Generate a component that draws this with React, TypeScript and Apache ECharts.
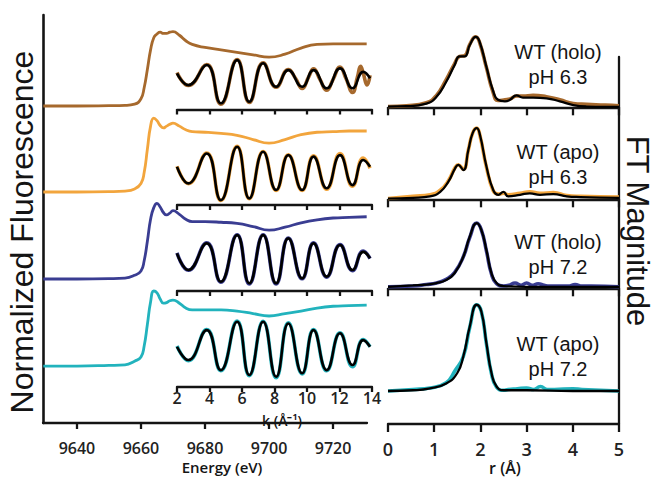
import React, { useEffect, useRef } from "react";
import * as echarts from "echarts";

// ---------------- DATA ----------------
// XANES (normalized, edge jump = 1)
const energyTicks = [9640, 9660, 9680, 9700, 9720];
const xanesEnergy = [9629.5, 9640, 9650, 9655, 9658, 9660, 9661, 9662, 9663, 9664, 9665, 9666, 9667, 9668, 9669, 9670, 9672, 9674, 9676, 9680, 9685, 9690, 9695, 9700, 9705, 9710, 9715, 9720, 9725, 9730.5];
const xanesHolo63 = [0, 0, 0.005, 0.01, 0.03, 0.12, 0.3, 0.6, 0.92, 1.12, 1.18, 1.21, 1.19, 1.19, 1.21, 1.22, 1.16, 1.07, 1.01, 0.96, 0.92, 0.88, 0.84, 0.8, 0.85, 0.95, 1.01, 1.02, 1.02, 1.02];
const xanesApo63 = [0, 0, 0.005, 0.015, 0.05, 0.14, 0.32, 0.7, 1.08, 1.21, 1.17, 1.09, 1.05, 1.08, 1.11, 1.13, 1.08, 1.02, 0.99, 0.98, 0.96, 0.93, 0.86, 0.8, 0.86, 0.94, 0.98, 0.99, 1.0, 1.0];
const xanesHolo72 = [0, 0, 0.005, 0.015, 0.06, 0.13, 0.3, 0.62, 0.98, 1.17, 1.24, 1.18, 1.09, 1.05, 1.08, 1.12, 1.06, 0.98, 0.94, 0.94, 0.93, 0.91, 0.86, 0.8, 0.85, 0.92, 0.97, 1.0, 1.01, 1.02];
const xanesApo72 = [0, 0, 0.01, 0.02, 0.08, 0.15, 0.33, 0.68, 1.05, 1.23, 1.2, 1.1, 1.03, 1.04, 1.07, 1.08, 1.03, 0.95, 0.92, 0.92, 0.92, 0.9, 0.86, 0.82, 0.86, 0.9, 0.95, 0.98, 0.99, 1.0];

// EXAFS k^3 chi(k)
const exafsK = [2.0, 2.7, 3.83, 4.7, 5.7, 6.45, 7.3, 8.1, 8.85, 9.7, 10.4, 11.21, 12.03, 12.8, 13.46, 13.88];
const exafsFitHolo63 = [0.29, -0.26, 0.68, -1.11, 0.91, -1.04, 0.76, -0.34, 0.44, -0.34, 0.44, -0.41, 0.52, -0.41, 0.36, 0.06];
const exafsFitApo63 = [0.39, -0.39, 1.01, -1.17, 1.32, -1.09, 1.09, -0.7, 0.93, -0.7, 0.86, -0.62, 0.93, -0.47, 0.7, 0.39];
const exafsFitHolo72 = [0.36, -0.42, 0.83, -0.97, 1.21, -1.04, 1.21, -1.04, 1.06, -0.81, 0.83, -0.73, 0.75, -0.42, 0.43, 0.13];
const exafsFitApo72 = [0.48, -0.14, 1.26, -0.61, 1.65, -0.84, 1.65, -0.92, 1.57, -0.76, 1.26, -0.61, 1.11, -0.37, 0.79, 0.48];
const exafsDataKHolo63 = [2.0, 2.7, 3.83, 4.7, 5.7, 6.45, 7.3, 8.1, 8.85, 9.3, 9.7, 10.1, 10.4, 10.8, 11.21, 11.6, 12.03, 12.4, 12.8, 13.1, 13.3, 13.46, 13.7, 13.88];
const exafsDataHolo63 = [0.33, -0.28, 0.7, -1.15, 0.93, -1.07, 0.78, -0.36, 0.47, 0.05, -0.42, 0.12, 0.5, 0.0, -0.5, 0.0, 0.58, 0.05, -0.6, 0.1, 0.62, 0.3, -0.25, 0.2];
const exafsDataApo63 = [0.41, -0.4, 1.03, -1.19, 1.34, -1.11, 1.1, -0.72, 0.95, -0.72, 0.9, -0.66, 1.0, -0.52, 0.8, 0.32];
const exafsDataHolo72 = [0.38, -0.43, 0.85, -0.99, 1.23, -1.07, 1.23, -1.07, 1.08, -0.83, 0.85, -0.75, 0.77, -0.45, 0.47, 0.11];
const exafsDataApo72 = [0.52, -0.17, 1.28, -0.64, 1.68, -0.87, 1.67, -0.97, 1.6, -0.79, 1.28, -0.64, 1.13, -0.45, 0.82, 0.48];

// Fourier transform magnitudes
const ftR1 = [0, 0.4, 0.83, 1.05, 1.26, 1.44, 1.55, 1.66, 1.77, 1.9, 1.98, 2.13, 2.27, 2.38, 2.53, 2.64, 2.78, 2.92, 3.14, 3.43, 3.72, 4.01, 4.3, 4.7, 5];
const ftFitHolo63 = [0.01, 0.015, 0.05, 0.14, 0.34, 0.56, 0.68, 0.68, 0.83, 0.94, 0.88, 0.54, 0.23, 0.1, 0.08, 0.1, 0.16, 0.13, 0.13, 0.12, 0.08, 0.03, 0.01, 0.005, 0.005];
const ftDataHolo63 = [0.01, 0.02, 0.06, 0.16, 0.37, 0.58, 0.68, 0.69, 0.84, 0.94, 0.87, 0.53, 0.21, 0.09, 0.1, 0.11, 0.15, 0.15, 0.16, 0.14, 0.1, 0.05, 0.04, 0.03, 0.02];
const ftR2 = [0, 0.54, 0.91, 1.13, 1.31, 1.45, 1.52, 1.63, 1.74, 1.83, 1.92, 1.99, 2.13, 2.28, 2.39, 2.5, 2.6, 2.86, 3.07, 3.29, 3.58, 3.87, 4.16, 5];
const ftFitApo63 = [0.01, 0.02, 0.04, 0.1, 0.24, 0.41, 0.46, 0.39, 0.66, 0.88, 0.95, 0.86, 0.44, 0.12, 0.06, 0.1, 0.04, 0.06, 0.08, 0.06, 0.07, 0.04, 0.03, 0.02];
const ftDataApo63 = [0.01, 0.04, 0.06, 0.12, 0.25, 0.42, 0.46, 0.4, 0.66, 0.88, 0.95, 0.85, 0.43, 0.11, 0.07, 0.08, 0.06, 0.08, 0.1, 0.08, 0.09, 0.05, 0.04, 0.03];
const ftR3 = [0, 0.54, 0.83, 1.05, 1.26, 1.44, 1.63, 1.77, 1.92, 2.02, 2.13, 2.24, 2.35, 2.5, 3, 4, 5];
const ftFitHolo72 = [0.02, 0.04, 0.05, 0.07, 0.11, 0.2, 0.42, 0.69, 0.87, 0.78, 0.51, 0.2, 0.07, 0.03, 0.02, 0.02, 0.02];
const ftDataR3 = [0, 0.54, 0.83, 1.05, 1.26, 1.44, 1.63, 1.77, 1.92, 2.02, 2.13, 2.24, 2.35, 2.5, 2.62, 2.75, 2.88, 3.0, 3.12, 3.25, 3.38, 3.5, 3.7, 3.9, 4.05, 4.2, 4.4, 5];
const ftDataHolo72 = [0.02, 0.03, 0.05, 0.07, 0.12, 0.21, 0.42, 0.68, 0.87, 0.78, 0.5, 0.19, 0.06, 0.03, 0.04, 0.07, 0.04, 0.07, 0.04, 0.06, 0.04, 0.03, 0.03, 0.03, 0.05, 0.03, 0.03, 0.02];
const ftR4 = [0, 0.54, 0.91, 1.26, 1.5, 1.63, 1.77, 1.92, 2.02, 2.13, 2.24, 2.35, 2.5, 3, 4, 5];
const ftFitApo72 = [0.0, 0.01, 0.036, 0.1, 0.24, 0.46, 0.86, 1.15, 1.06, 0.64, 0.24, 0.06, 0.01, 0.01, 0.0, 0.0];
const ftDataR4 = [0, 0.54, 0.91, 1.26, 1.45, 1.63, 1.77, 1.92, 2.02, 2.13, 2.24, 2.35, 2.5, 2.6, 2.8, 3.0, 3.15, 3.3, 3.45, 3.6, 4.0, 4.2, 5];
const ftDataApo72 = [0.0, 0.02, 0.04, 0.11, 0.27, 0.46, 0.85, 1.15, 1.06, 0.63, 0.23, 0.05, 0.01, 0.02, 0.03, 0.04, 0.02, 0.06, 0.02, 0.02, 0.03, 0.02, 0.0];

const sampleLabels = [
  ["WT (holo)", "pH 6.3"],
  ["WT (apo)", "pH 6.3"],
  ["WT (holo)", "pH 7.2"],
  ["WT (apo)", "pH 7.2"],
];

// ---------------- STYLE / LAYOUT ----------------
const INK = "#141414";
const COLORS = ["#a6692d", "#f2a53d", "#3a3d92", "#22b3bd"];
const XANES_OFFSETS = [5.197, 3.787, 2.361, 0.934];
const INSET_AXIS_Y = [109.5, 205, 291, 387];
const INSET_H = 70.6;
const FT_AXIS_Y = [107.3, 199.3, 288.3];
const FT_H = 93.75;
const LABEL_Y = [52, 152, 242, 344];
const TICK_FONT = "Open Sans";
const TITLE_FONT = "Liberation Sans";

const zip = (xs: number[], ys: number[], off = 0) => xs.map((x, i) => [x, ys[i] + off]);

function buildOption() {
  const axisLine = { show: true, onZero: false, lineStyle: { color: INK, width: 2.3 } };
  const tickStyle = { color: INK, width: 2.3 };
  const noSplit = { show: false };
  const tickLabel = { fontFamily: TICK_FONT, fontWeight: 600, color: "#222" };

  const grid: any[] = [];
  const xAxis: any[] = [];
  const yAxis: any[] = [];
  const series: any[] = [];

  // XANES
  grid.push({ left: 43, top: 15, width: 324, height: 408, outerBoundsMode: "none", containLabel: false });
  xAxis.push({
    gridIndex: 0, type: "value", min: 9629.4, max: 9730.6,
    axisLine, splitLine: noSplit,
    axisTick: { show: true, length: 6, customValues: energyTicks, lineStyle: tickStyle },
    axisLabel: { ...tickLabel, customValues: energyTicks, fontSize: 16, margin: 17, formatter: (v: number) => String(v) },
  });
  yAxis.push({
    gridIndex: 0, type: "value", min: 0, max: 6.689,
    axisLine: { show: true, onZero: false, lineStyle: { color: INK, width: 2.6 } },
    axisTick: { show: false }, axisLabel: { show: false }, splitLine: noSplit,
  });

  const line = (idx: number, data: number[][], color: string, width: number, z: number) => ({
    type: "line", xAxisIndex: idx, yAxisIndex: idx, data, smooth: true, showSymbol: false, symbol: "none",
    lineStyle: { color, width }, z, silent: true, clip: false, animation: false,
  });

  const xanes = [xanesHolo63, xanesApo63, xanesHolo72, xanesApo72];
  xanes.forEach((vals, i) => series.push(line(0, zip(xanesEnergy, vals, XANES_OFFSETS[i]), COLORS[i], 2.8, 3)));

  // EXAFS insets
  const exFit = [exafsFitHolo63, exafsFitApo63, exafsFitHolo72, exafsFitApo72];
  const exData = [
    zip(exafsDataKHolo63, exafsDataHolo63),
    zip(exafsK, exafsDataApo63),
    zip(exafsK, exafsDataHolo72),
    zip(exafsK, exafsDataApo72),
  ];
  INSET_AXIS_Y.forEach((ay, i) => {
    const gi = grid.length;
    grid.push({ left: 177, width: 195, top: ay - INSET_H, height: INSET_H, outerBoundsMode: "none", containLabel: false });
    xAxis.push({
      gridIndex: gi, type: "value", min: 2, max: 14, interval: 2,
      axisLine, splitLine: noSplit,
      axisTick: { show: true, length: 5, lineStyle: tickStyle },
      axisLabel: { ...tickLabel, show: i === 3, fontSize: 16, margin: 3 },
    });
    yAxis.push({ gridIndex: gi, type: "value", min: -1.4, max: 1.9, show: false, splitLine: noSplit });
    series.push(line(gi, exData[i], COLORS[i], 3.6, 4));
    series.push(line(gi, zip(exafsK, exFit[i]), "#000", 2.6, 5));
  });

  // FT panels
  const ftFit = [zip(ftR1, ftFitHolo63), zip(ftR2, ftFitApo63), zip(ftR3, ftFitHolo72), zip(ftR4, ftFitApo72)];
  const ftData = [zip(ftR1, ftDataHolo63), zip(ftR2, ftDataApo63), zip(ftDataR3, ftDataHolo72), zip(ftDataR4, ftDataApo72)];
  for (let i = 0; i < 4; i++) {
    const gi = grid.length;
    const last = i === 3;
    if (!last) {
      grid.push({ left: 388, width: 231, top: FT_AXIS_Y[i] - FT_H, height: FT_H, outerBoundsMode: "none", containLabel: false });
      yAxis.push({ gridIndex: gi, type: "value", min: 0, max: 1.25, show: false, splitLine: noSplit });
    } else {
      grid.push({ left: 388, width: 231, top: 57, height: 367, outerBoundsMode: "none", containLabel: false });
      yAxis.push({
        gridIndex: gi, type: "value", min: -0.44, max: 4.4533, position: "right",
        axisLine: { show: true, onZero: false, lineStyle: { color: INK, width: 2.3 } },
        axisTick: { show: false }, axisLabel: { show: false }, splitLine: noSplit,
      });
    }
    xAxis.push({
      gridIndex: gi, type: "value", min: 0, max: 5, interval: 1,
      axisLine, splitLine: noSplit,
      axisTick: { show: true, length: 8, lineStyle: tickStyle },
      axisLabel: { ...tickLabel, show: last, fontSize: 18, margin: 16 },
    });
    series.push(line(gi, ftData[i], COLORS[i], 3.6, 4));
    series.push(line(gi, ftFit[i], "#000", 2.3, 5));
  }

  const text = (t: string, x: number, y: number, size: number, font: string, rotation = 0, weight: any = "normal") => ({
    type: "text", x, y, rotation, z: 10, silent: true,
    style: { text: t, fontSize: size, fontFamily: font, fontWeight: weight, fill: INK, align: "center", verticalAlign: "middle", textAlign: "center", textVerticalAlign: "middle" },
  });

  const graphic: any[] = [
    text("Normalized Fluorescence", 22, 232, 32, TITLE_FONT, Math.PI / 2),
    text("FT Magnitude", 637, 231, 31, TITLE_FONT, -Math.PI / 2),
    text("Energy (eV)", 222, 467, 15, TICK_FONT, 0, 600),
    text("k (Å⁻¹)", 282, 420, 14, TICK_FONT, 0, 600),
    text("r (Å)", 505, 468, 16, TICK_FONT, 0, 600),
  ];
  sampleLabels.forEach(([a, b], i) => {
    graphic.push(text(a, 558, LABEL_Y[i], 20, TITLE_FONT));
    graphic.push(text(b, 558, LABEL_Y[i] + 25, 20, TITLE_FONT));
  });

  return { animation: false, backgroundColor: "#fff", grid, xAxis, yAxis, series, graphic };
}

export default function App() {
  const ref = useRef<HTMLDivElement>(null);
  useEffect(() => {
    const chart = echarts.init(ref.current!, null, { renderer: "svg" });
    chart.setOption(buildOption() as any);
    return () => chart.dispose();
  }, []);
  return (
    <div
      ref={ref}
      style={{ position: "fixed", left: 0, top: 0, width: 653, height: 479, background: "#fff" }}
    />
  );
}
